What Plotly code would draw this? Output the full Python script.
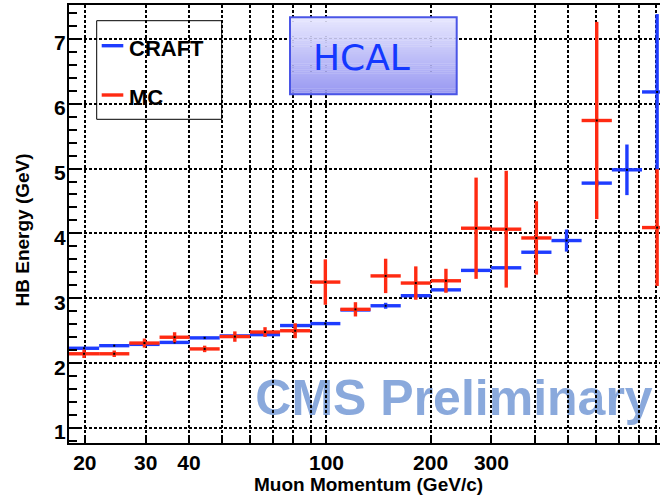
import numpy as np
import plotly.graph_objects as go

# Muon momentum binning (GeV/c), log-spaced bins
bin_edges = [18.0, 22.0, 26.9, 32.9, 40.2, 49.1, 60.1, 73.4, 89.8, 109.7, 134.1,
             164.0, 200.4, 245.0, 299.5, 366.0, 447.5, 547.0, 669.0, 818.0, 1000.0]

# Mean HB energy per bin (GeV) and its uncertainty; None = empty bin
craft_energy = [2.23, 2.27, 2.29, 2.32, 2.39, 2.42, 2.44, 2.58, 2.61, 2.82,
                2.885, 3.04, 3.13, 3.43, 3.47, 3.71, 3.89, 4.775, 4.98, 6.18]
craft_err = [0.02, 0.02, 0.02, 0.02, 0.02, 0.02, 0.02, 0.02, 0.02, 0.02,
             0.046, 0.03, 0.03, 0.02, 0.02, 0.03, 0.17, 0.05, 0.39, 1.2]

mc_energy = [2.145, 2.145, 2.31, 2.40, 2.22, 2.41, 2.48, 2.50, 3.25, 2.83,
             3.345, 3.235, 3.27, 4.08, 4.065, 3.93, None, 5.74, None, 4.09]
mc_err = [0.065, 0.05, 0.07, 0.077, 0.05, 0.08, 0.075, 0.115, 0.35, 0.11,
          0.265, 0.257, 0.185, 0.78, 0.9, 0.565, None, 1.52, None, 0.9]

# Axis ticks
x_grid_vals = [20, 30, 40, 50, 60, 70, 80, 90, 100, 200, 300, 400, 500, 600, 700, 800, 900]
x_labelled = {20: "20", 30: "30", 40: "40", 100: "100", 200: "200", 300: "300"}
y_tick_vals = [1, 2, 3, 4, 5, 6, 7]

BLUE = "#1e3cff"
RED = "#ff2a12"
FONT = "Liberation Sans"

W, H = 660, 497
ML, MR, MT, MB = 69, 0, 5, 54
PW, PH = W - ML - MR, H - MT - MB


def pxx(p):
    return (p - ML) / PW


def pxy(p):
    return (H - MB - p) / PH


def hist_trace(values, errors, color, name):
    lo, hi, xc, yv, ye = [], [], [], [], []
    for i, (v, e) in enumerate(zip(values, errors)):
        if v is None:
            continue
        a, b = bin_edges[i], bin_edges[i + 1]
        c = float(np.sqrt(a * b))
        xc.append(c)
        lo.append(c - a)
        hi.append(b - c)
        yv.append(v)
        ye.append(e)
    return go.Scatter(
        x=xc, y=yv, mode="markers", name=name,
        marker=dict(symbol="square", size=2, color="black"),
        error_x=dict(type="data", symmetric=False, array=hi, arrayminus=lo,
                     color=color, thickness=3.4, width=0),
        error_y=dict(type="data", array=ye, color=color, thickness=3.4, width=0),
        showlegend=False,
    )


fig = go.Figure()
fig.add_trace(hist_trace(craft_energy, craft_err, BLUE, "CRAFT"))
fig.add_trace(hist_trace(mc_energy, mc_err, RED, "MC"))

grid = dict(showgrid=True, gridcolor="black", gridwidth=1.8, griddash="3px,2px")

fig.update_xaxes(
    type="log", range=[np.log10(18), np.log10(922)],
    tickvals=x_grid_vals, ticktext=[x_labelled.get(v, "") for v in x_grid_vals],
    ticks="inside", ticklen=8, tickwidth=1.5, tickcolor="black",
    showline=True, linewidth=2.2, linecolor="black", mirror=True,
    tickfont=dict(family=FONT, size=21, color="black", weight="bold"),
    zeroline=False, **grid,
)
fig.update_yaxes(
    range=[0.77, 7.52], tickvals=y_tick_vals,
    ticks="inside", ticklen=13, tickwidth=1.5, tickcolor="black",
    minor=dict(dtick=0.2, ticks="inside", ticklen=8, tickwidth=1.5,
               tickcolor="black", showgrid=False),
    showline=True, linewidth=2.2, linecolor="black",
    tickfont=dict(family=FONT, size=21, color="black", weight="bold"),
    ticklabelshift=4, ticklabelstandoff=-3,
    zeroline=False, **grid,
)

shapes = []
annotations = []

# Watermark underneath the grid
shapes.append(dict(
    type="rect", xref="paper", yref="paper", layer="below",
    x0=pxx(250), x1=pxx(658), y0=pxy(420), y1=pxy(366),
    line=dict(width=0), fillcolor="rgba(0,0,0,0)",
    label=dict(text="CMS Preliminary", textposition="middle center", padding=0,
               font=dict(family=FONT, size=50, color="#8aa9dc", weight="bold")),
))

# Legend frame
shapes.append(dict(
    type="rect", xref="paper", yref="paper", layer="below",
    x0=pxx(96.7), x1=pxx(221.7), y0=pxy(119.3), y1=pxy(20.7),
    line=dict(color="black", width=1), fillcolor="white",
))
for ypix, col, label in [(45.7, BLUE, "CRAFT"), (95.0, RED, "MC")]:
    shapes.append(dict(
        type="line", xref="paper", yref="paper", layer="above",
        x0=pxx(101.7), x1=pxx(123.3), y0=pxy(ypix), y1=pxy(ypix),
        line=dict(color=col, width=3.4),
    ))
    annotations.append(dict(
        text=label, xref="paper", yref="paper", x=pxx(127), y=pxy(ypix + 2.5),
        xanchor="left", yanchor="middle", showarrow=False,
        font=dict(family=FONT, size=22, color="black", weight="bold"),
    ))

# HCAL label box with vertical gradient
bx0, bx1, by0, by1 = 290.0, 456.7, 17.3, 94.3
top_rgb = np.array([232, 232, 255])
bot_rgb = np.array([152, 152, 242])
n_strips = 40
for k in range(n_strips):
    t = (k + 0.5) / n_strips
    r, g, b = (top_rgb + (bot_rgb - top_rgb) * t).astype(int)
    ya = by0 + (by1 - by0) * k / n_strips
    yb = by0 + (by1 - by0) * (k + 1) / n_strips
    shapes.append(dict(
        type="rect", xref="paper", yref="paper", layer="above",
        x0=pxx(bx0), x1=pxx(bx1), y0=pxy(yb + 0.3), y1=pxy(ya),
        line=dict(width=0), fillcolor=f"rgb({r},{g},{b})",
    ))
shapes.append(dict(
    type="rect", xref="paper", yref="paper", layer="above",
    x0=pxx(bx0), x1=pxx(bx1), y0=pxy(by1), y1=pxy(by0),
    line=dict(color="#4a55e6", width=2), fillcolor="rgba(0,0,0,0)",
))
annotations.append(dict(
    text="HCAL", xref="paper", yref="paper", x=pxx(361), y=pxy(58),
    xanchor="center", yanchor="middle", showarrow=False,
    font=dict(family="DejaVu Sans", size=36, color="#1438ff"),
))

# Axis titles
annotations.append(dict(
    text="Muon Momentum (GeV/c)", xref="paper", yref="paper",
    x=pxx(368), y=pxy(484), xanchor="center", yanchor="middle", showarrow=False,
    font=dict(family=FONT, size=19, color="black", weight="bold"),
))
annotations.append(dict(
    text="HB Energy (GeV)", xref="paper", yref="paper",
    x=pxx(21.5), y=pxy(230), xanchor="center", yanchor="middle", showarrow=False,
    textangle=-90,
    font=dict(family=FONT, size=19, color="black", weight="bold"),
))

fig.update_layout(
    width=W, height=H, margin=dict(l=ML, r=MR, t=MT, b=MB),
    plot_bgcolor="white", paper_bgcolor="white", showlegend=False,
    shapes=shapes, annotations=annotations,
)

fig.write_html("out.html")
